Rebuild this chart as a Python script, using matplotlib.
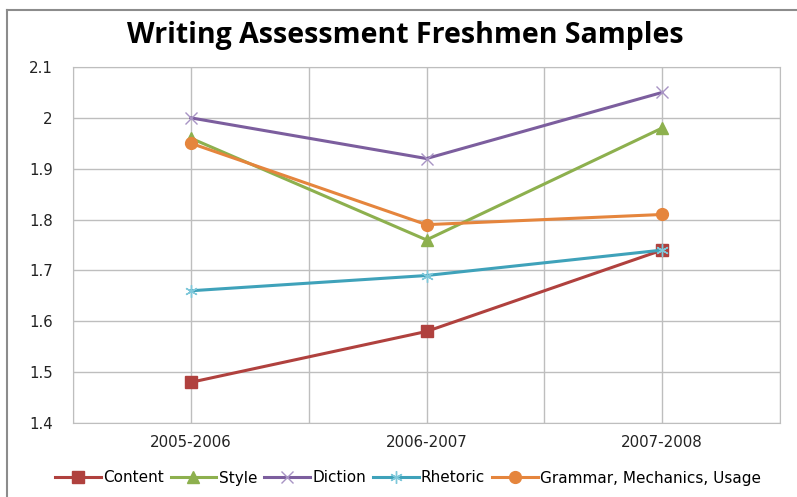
import matplotlib.pyplot as plt
from matplotlib.lines import Line2D

years = ['2005-2006', '2006-2007', '2007-2008']
content = [1.48, 1.58, 1.74]
style = [1.96, 1.76, 1.98]
diction = [2.00, 1.92, 2.05]
rhetoric = [1.66, 1.69, 1.74]
grammar = [1.95, 1.79, 1.81]
yticks = [1.4, 1.5, 1.6, 1.7, 1.8, 1.9, 2.0, 2.1]
ytick_labels = ['1.4', '1.5', '1.6', '1.7', '1.8', '1.9', '2', '2.1']

plt.rcParams['font.family'] = ['DejaVu Sans']

fig = plt.figure(figsize=(7.97, 4.97), dpi=100)
ax = fig.add_axes([73/797, 74/497, 707/797, 356/497])

x = list(range(len(years)))
grid_c = '#BEBEBE'

# series: (label, values, color, marker, markersize, marker color)
series = [
    ('Content', content, '#B0413E', 's', 8.5, '#B0413E'),
    ('Style', style, '#8DB04E', '^', 8.5, '#8DB04E'),
    ('Diction', diction, '#7C5E9E', 'x', 9, '#A894C4'),
    ('Rhetoric', rhetoric, '#3FA2BA', (6, 2, 0), 9, '#7FC8DA'),
    ('Grammar, Mechanics, Usage', grammar, '#E5853D', 'o', 8.5, '#E5853D'),
]

handles = []
for label, vals, c, m, ms, mc in series:
    ax.plot(x, vals, color=c, lw=2.2, marker=m, markersize=ms,
            markerfacecolor=mc, markeredgecolor=mc, markeredgewidth=1.0,
            zorder=3)
    handles.append(Line2D([0], [0], color=c, lw=2.2, marker=m, markersize=ms,
                          markerfacecolor=mc, markeredgecolor=mc,
                          markeredgewidth=1.0, label=label))

ax.set_xlim(-0.5, 2.5)
ax.set_ylim(1.4, 2.1)
ax.set_xticks(x)
ax.set_xticklabels(years)
ax.set_xticks([-0.5, 0.5, 1.5, 2.5], minor=True)
ax.set_yticks(yticks)
ax.set_yticklabels(ytick_labels)
ax.grid(True, which='both', color=grid_c, lw=1.0)
ax.set_axisbelow(True)
ax.tick_params(axis='both', which='both', length=0, labelsize=10.8, colors='#222222')
ax.tick_params(axis='y', pad=14.5)
ax.tick_params(axis='x', pad=8.5)
for s in ax.spines.values():
    s.set_color(grid_c)

fig.text(405/797, 1 - 36/497, 'Writing Assessment Freshmen Samples',
         ha='center', va='center', fontsize=20.5, fontweight='bold',
         fontstretch='normal', family=['Open Sans', 'DejaVu Sans'])

fig.legend(handles=handles, loc='center', bbox_to_anchor=(408/797, 1 - 478/497),
           ncol=5, frameon=False, fontsize=11, handlelength=3.0,
           handletextpad=0.15, columnspacing=0.45)

# outer chart border (top and left visible)
fig.add_artist(Line2D([7/797, 7/797], [0, 1 - 10/497], transform=fig.transFigure,
                      color='#8C8C8C', lw=1.5))
fig.add_artist(Line2D([7/797, 1], [1 - 10/497, 1 - 10/497], transform=fig.transFigure,
                      color='#8C8C8C', lw=1.5))

fig.savefig('out.png', dpi=100)
